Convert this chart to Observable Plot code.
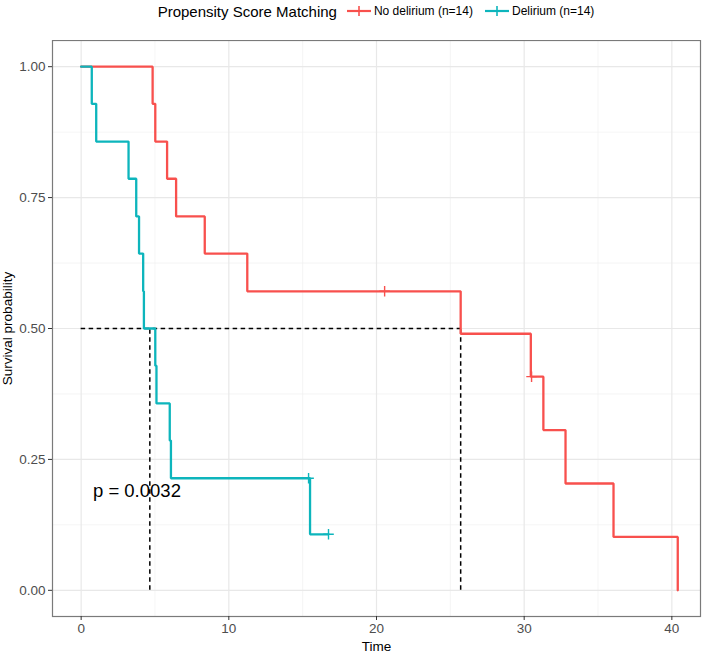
<!DOCTYPE html>
<html>
<head>
<meta charset="utf-8">
<script src="https://cdn.jsdelivr.net/npm/d3@7"></script>
<script src="https://cdn.jsdelivr.net/npm/@observablehq/plot@0.6"></script>
<style>
  body { margin: 0; background: #fff; font-family: "Liberation Sans", Arial, sans-serif; }
  #legend { width: 702px; height: 40px; box-sizing: border-box; padding: 0 0 0 62px;
            display: flex; justify-content: center; align-items: flex-start; }
  #legend .row { display: flex; align-items: center; height: 22px; margin-top: 0px; }
  #legend .title { font-size: 15px; color: #000; margin-right: 10px; }
  #legend .lab { font-size: 12px; color: #000; margin: 0 12px 0 3px; }
  #legend svg { display: block; }
</style>
</head>
<body>
<div id="legend"></div>
<div id="chart"></div>
<script>
// ---- data ----
const groups = ["No delirium (n=14)", "Delirium (n=14)"];
const colors = ["#F8504D", "#0DB5BC"];
const legendTitle = "Propensity Score Matching";

// No delirium: step times and survival
const noDelTime = [0, 4.84, 5.02, 5.82, 6.43, 8.37, 11.25, 25.7, 30.45, 31.3, 32.8, 36.05, 40.4];
const noDelSurv = [1, 0.929, 0.857, 0.786, 0.714, 0.643, 0.571, 0.490, 0.408, 0.306, 0.204, 0.102, 0];
const noDelCensorTime = [20.55, 30.5];
const noDelCensorSurv = [0.571, 0.408];

// Delirium: step times and survival
const delTime = [0, 0.72, 1.02, 3.21, 3.73, 3.92, 4.2, 4.25, 5.02, 5.1, 6.0, 6.08, 15.5, 16.75];
const delSurv = [1, 0.929, 0.857, 0.786, 0.714, 0.643, 0.571, 0.5, 0.429, 0.357, 0.286, 0.214, 0.107, 0.107];
const delCensorTime = [15.4, 16.75];
const delCensorSurv = [0.214, 0.107];

// median survival lines
const medianTimes = [4.65, 25.7];
const medianLevel = 0.5;

// p-value annotation
const pText = ["p = 0.0032"];
const pPos = [{x: 0.8, y: 0.19}];

const xMajor = [0, 10, 20, 30, 40];
const xMinor = [5, 15, 25, 35];
const yMajor = [0, 0.25, 0.5, 0.75, 1];
const yMinor = [0.125, 0.375, 0.625, 0.875];
const xDomain = [-1.94, 41.94];
const yDomain = [-0.05, 1.05];

// ---- build tables ----
const curves = [
  ...noDelTime.map((t, i) => ({group: groups[0], time: t, surv: noDelSurv[i]})),
  ...delTime.map((t, i) => ({group: groups[1], time: t, surv: delSurv[i]}))
];
const censors = [
  ...noDelCensorTime.map((t, i) => ({group: groups[0], time: t, surv: noDelCensorSurv[i]})),
  ...delCensorTime.map((t, i) => ({group: groups[1], time: t, surv: delCensorSurv[i]}))
];

// ---- legend (HTML) ----
const leg = document.getElementById("legend");
const row = document.createElement("div");
row.className = "row";
const tt = document.createElement("span");
tt.className = "title";
tt.textContent = legendTitle;
row.appendChild(tt);
groups.forEach((g, i) => {
  const ns = "http://www.w3.org/2000/svg";
  const s = document.createElementNS(ns, "svg");
  s.setAttribute("width", 24); s.setAttribute("height", 16);
  const l = document.createElementNS(ns, "line");
  l.setAttribute("x1", 0); l.setAttribute("x2", 24); l.setAttribute("y1", 8); l.setAttribute("y2", 8);
  l.setAttribute("stroke", colors[i]); l.setAttribute("stroke-width", 2.2);
  const v = document.createElementNS(ns, "line");
  v.setAttribute("x1", 12); v.setAttribute("x2", 12); v.setAttribute("y1", 3); v.setAttribute("y2", 13);
  v.setAttribute("stroke", colors[i]); v.setAttribute("stroke-width", 1.6);
  s.appendChild(l); s.appendChild(v);
  row.appendChild(s);
  const lab = document.createElement("span");
  lab.className = "lab";
  lab.textContent = g;
  row.appendChild(lab);
});
leg.appendChild(row);

// ---- chart ----
const chart = Plot.plot({
  width: 702,
  height: 613,
  marginTop: 0,
  marginBottom: 37,
  marginLeft: 52,
  marginRight: 2,
  style: {fontFamily: "'Liberation Sans', Arial, sans-serif", background: "#fff"},
  x: {domain: xDomain},
  y: {domain: yDomain},
  color: {domain: groups, range: colors},
  marks: [
    Plot.ruleX(xMinor, {stroke: "#f0f0f0", strokeWidth: 0.7}),
    Plot.ruleY(yMinor, {stroke: "#f0f0f0", strokeWidth: 0.7}),
    Plot.ruleX(xMajor, {stroke: "#e8e8e8", strokeWidth: 1.2}),
    Plot.ruleY(yMajor, {stroke: "#e8e8e8", strokeWidth: 1.2}),
    Plot.ruleY([medianLevel], {x1: 0, x2: d3.max(medianTimes), stroke: "#000", strokeWidth: 1.5, strokeDasharray: "4.5,3.5"}),
    Plot.ruleX(medianTimes, {y1: 0, y2: medianLevel, stroke: "#000", strokeWidth: 1.5, strokeDasharray: "4.5,3.5"}),
    Plot.line(curves, {x: "time", y: "surv", z: "group", stroke: "group", curve: "step-after", strokeWidth: 2.3, strokeLinejoin: "miter"}),
    Plot.dot(censors, {x: "time", y: "surv", stroke: "group", symbol: "plus", r: 3.5, strokeWidth: 1.4}),
    Plot.text(pText, {x: pPos.map(d => d.x), y: pPos.map(d => d.y), text: d => d, textAnchor: "start", fontSize: 18.5, fill: "#000"}),
    Plot.frame({stroke: "#7a7a7a", strokeWidth: 1.2}),
    Plot.axisX(xMajor, {tickSize: 4, tickPadding: 3, fontSize: 13.5, color: "#4d4d4d", stroke: "#333",
      label: "Time", labelAnchor: "center", labelOffset: 34, labelArrow: "none"}),
    Plot.axisY(yMajor, {tickSize: 4, tickPadding: 3, fontSize: 13.5, color: "#4d4d4d", stroke: "#333",
      tickFormat: d3.format(".2f"), label: "Survival probability", labelAnchor: "center", labelOffset: 50, labelArrow: "none"})
  ]
});
chart.querySelectorAll("g[aria-label='x-axis label'] text, g[aria-label='y-axis label'] text").forEach(t => t.setAttribute("fill", "#000"));
document.getElementById("chart").appendChild(chart);
</script>
</body>
</html>
